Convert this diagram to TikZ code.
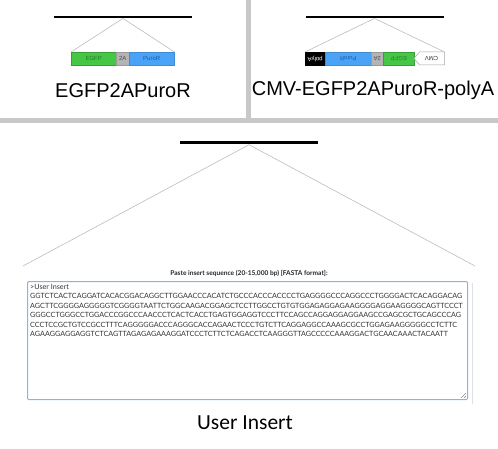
\documentclass[tikz,border=0pt]{standalone}
\usepackage{fontspec}
\setmainfont{Liberation Sans}
\newfontfamily\latofont{Lato}
\newfontfamily\carlitofont{Carlito}
\definecolor{sepgray}{HTML}{C8C8C8}
\definecolor{lgray}{HTML}{BDBDBD}
\definecolor{egfpgreen}{HTML}{45C745}
\definecolor{egfptext}{HTML}{2A7A2A}
\definecolor{puroblue}{HTML}{4BA3F7}
\definecolor{purotext}{HTML}{1C5C9E}
\definecolor{twoagray}{HTML}{B4B4B4}
\definecolor{boxblue}{HTML}{86B4EA}
\definecolor{seqtext}{HTML}{333333}
\tikzset{
  bar/.style={fill=black, inner sep=0pt, minimum height=#1, minimum width=138pt},
  zoomline/.style={draw=lgray, line width=0.6pt},
  seg/.style={inner sep=0pt, minimum height=13pt, anchor=north west, font=\fontsize{6}{7}\selectfont, line width=0.4pt},
  biglabel/.style={font=\fontsize{20}{24}\selectfont, inner sep=0pt},
}
\begin{document}
\begin{tikzpicture}[x=1pt,y=-1pt]
\fill[white] (0,0) rectangle (498,449);
\useasboundingbox (0,0) rectangle (498,449);
% separators
\fill[sepgray] (0,118) rectangle (498,123);
\fill[sepgray] (245.5,0) rectangle (250.5,118);
% panel 1
\node[bar=2.4pt] (bar1) at (123,17) {};
\node[seg, fill=egfpgreen, draw=egfpgreen!80!black, minimum width=45pt, text=egfptext] (egfp1) at (71,52) {EGFP};
\node[seg, fill=twoagray, draw=twoagray!85!black, minimum width=13pt, text=black!70] (twoa1) at (116,52) {2A};
\node[seg, fill=puroblue, draw=puroblue!85!black, minimum width=45pt, text=purotext] (puro1) at (129,52) {PuroR};
\draw[zoomline] (bar1.south) -- (egfp1.north west);
\draw[zoomline] (bar1.south) -- (puro1.north east);
\node[biglabel] (lab1) at (123,91) {EGFP2APuroR};
% panel 2
\node[bar=2.4pt] (bar2) at (374.5,17) {};
\node[seg, fill=black, draw=black, minimum width=20pt, text=white, rotate=180, anchor=south east] (polya2) at (305,52) {polyA};
\node[seg, fill=puroblue, draw=puroblue!85!black, minimum width=46pt, text=purotext, rotate=180, anchor=south east] (puro2) at (325,52) {PuroR};
\node[seg, fill=twoagray, draw=twoagray!85!black, minimum width=12pt, text=black!70, rotate=180, anchor=south east] (twoa2) at (371,52) {2A};
\node[seg, fill=egfpgreen, draw=egfpgreen!80!black, minimum width=31pt, text=egfptext, rotate=180, anchor=south east] (egfp2) at (383,52) {EGFP};
\coordinate (cmvtip) at (414,58.5);
\coordinate (cmvtl) at (419.5,52);
\coordinate (cmvtr) at (444.5,52);
\coordinate (cmvbr) at (444.5,65);
\coordinate (cmvbl) at (419.5,65);
\draw[fill=white, draw=black!35, line width=0.5pt] (cmvtip) -- (cmvtl) -- (cmvtr) -- (cmvbr) -- (cmvbl) -- cycle;
\node[font=\fontsize{6}{7}\selectfont, rotate=180, inner sep=0pt, text=black!80] (cmv2) at (431.5,58.5) {CMV};
\draw[zoomline] (bar2.south) -- (polya2.south east);
\draw[zoomline] (bar2.south) -- (cmvtr);
\node[biglabel] (lab2) at (373,90) {CMV-EGFP2APuroR-polyA};
% bottom panel
\node[bar=3pt] (bar3) at (249,143) {};
\coordinate (zl) at (23,266);
\coordinate (zr) at (475,266);
\draw[zoomline] (bar3.south) -- (zl);
\draw[zoomline] (bar3.south) -- (zr);
\node[font=\latofont\bfseries\fontsize{6.6}{8}\selectfont, text=black!85, inner sep=0pt] (paste) at (249,273.5) {Paste insert sequence (20-15,000 bp) [FASTA format]:};
\draw[black!12, line width=0.6pt] (472,283) -- (472,404);
\node[draw=boxblue, line width=1pt, rounded corners=1pt, fill=white, minimum width=440pt, minimum height=118pt, anchor=north west, inner sep=0pt] (tbox) at (27,281) {};
\draw[black!45, line width=0.4pt] ([shift={(-2,-7)}]tbox.south east) -- ([shift={(-7,-2)}]tbox.south east)
  ([shift={(-2,-4)}]tbox.south east) -- ([shift={(-4,-2)}]tbox.south east);
\node[anchor=north west, inner sep=0pt, align=left, text=seqtext, font=\latofont\fontsize{7.2}{9.5}\selectfont] (seq) at (30,284) {%
>User Insert\\
GGTCTCACTCAGGATCACACGGACAGGCTTGGAACCCACATCTGCCCACCCACCCCTGAGGGGCCCAGGCCCTGGGGACTCACAGGACAG\\
AGCTTCGGGGAGGGGGTCGGGGTAATTCTGGCAAGACGGAGCTCCTTGGCCTGTGTGGAGAGGAGAAGGGGAGGAAGGGGCAGTTCCCT\\
GGGCCTGGGCCTGGACCCGGCCCAACCCTCACTCACCTGAGTGGAGGTCCCTTCCAGCCAGGAGGAGGAAGCCGAGCGCTGCAGCCCAG\\
CCCTCCGCTGTCCGCCTTTCAGGGGGACCCAGGGCACCAGAACTCCCTGTCTTCAGGAGGCCAAAGCGCCTGGAGAAGGGGGCCTCTTC\\
AGAAGGAGGAGGTCTCAGTTAGAGAGAAAGGATCCCTCTTCTCAGACCTCAAGGGTTAGCCCCCAAAGGACTGCAACAAACTACAATT};
\node[font=\carlitofont\fontsize{21.5}{26}\selectfont, inner sep=0pt] (lab3) at (245,423) {User Insert};
\end{tikzpicture}
\end{document}
